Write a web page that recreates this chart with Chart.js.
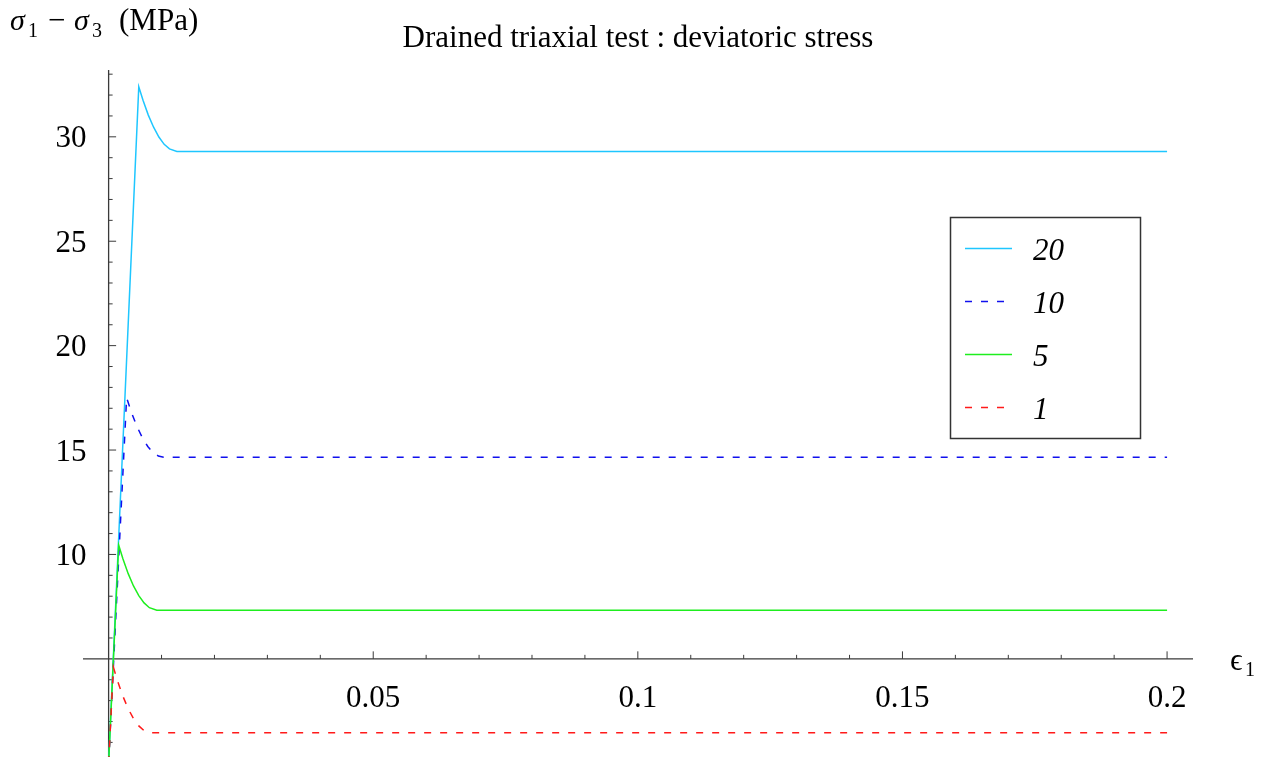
<!DOCTYPE html>
<html>
<head>
<meta charset="utf-8">
<script src="https://cdn.jsdelivr.net/npm/chart.js@4.4.1/dist/chart.umd.min.js"></script>
<style>
  html, body { margin: 0; padding: 0; background: #ffffff; }
  canvas { display: block; }
</style>
</head>
<body>
<canvas id="chart" width="1263" height="757"></canvas>
<script>
// Confining pressure of each test (MPa), in legend order
const confiningLabels = ['20', '10', '5', '1'];

// Axial strain and deviatoric stress (MPa) for each confining pressure
const strain20 = [0, 0.0057, 0.0065, 0.0075, 0.0085, 0.0095, 0.0105, 0.0115, 0.0129, 0.2];
const stress20 = [0, 32.4, 31.75, 31.04, 30.46, 29.99, 29.64, 29.42, 29.3, 29.3];

const strain10 = [0, 0.0034, 0.0044, 0.0054, 0.0064, 0.0074, 0.0084, 0.0094, 0.0104, 0.2];
const stress10 = [0, 17.5, 16.74, 16.1, 15.58, 15.17, 14.88, 14.71, 14.65, 14.65];

const strain5 = [0, 0.0019, 0.0027, 0.0037, 0.0047, 0.0057, 0.0067, 0.0077, 0.0091, 0.2];
const stress5 = [0, 10.45, 9.79, 9.08, 8.49, 8.03, 7.68, 7.45, 7.33, 7.33];

const strain1 = [0, 0.0009, 0.0017, 0.0027, 0.0037, 0.0047, 0.0057, 0.0067, 0.008, 0.2];
const stress1 = [0, 4.6, 3.93, 3.21, 2.61, 2.14, 1.79, 1.565, 1.46, 1.46];

// Axis ticks
const xMajorTicks = [0.05, 0.1, 0.15, 0.2];
const xTickLabels = ['0.05', '0.1', '0.15', '0.2'];
const xMinorTicks = [0.01, 0.02, 0.03, 0.04, 0.06, 0.07, 0.08, 0.09, 0.11, 0.12, 0.13, 0.14,
                     0.16, 0.17, 0.18, 0.19];
const yMajorTicks = [10, 15, 20, 25, 30];
const yTickLabels = ['10', '15', '20', '25', '30'];
const yMinorTicks = [1, 2, 3, 4, 6, 7, 8, 9, 11, 12, 13, 14, 16, 17, 18, 19, 21, 22, 23, 24,
                     26, 27, 28, 29, 31, 32, 33];

// The axes cross at this point
const axisOriginX = 0;
const axisOriginY = 5;

const SERIF = '"Liberation Serif", "Times New Roman", serif';
const AXIS_COLOR = '#3a3a3a';

function pairs(xs, ys) {
  return xs.map((x, i) => ({ x: x, y: ys[i] }));
}

const datasets = [
  { label: confiningLabels[0], data: pairs(strain20, stress20), borderColor: '#1ec6ff', borderDash: [], order: 4 },
  { label: confiningLabels[1], data: pairs(strain10, stress10), borderColor: '#1010ee', borderDash: [7, 9], order: 3 },
  { label: confiningLabels[2], data: pairs(strain5, stress5), borderColor: '#1eee1e', borderDash: [], order: 2 },
  { label: confiningLabels[3], data: pairs(strain1, stress1), borderColor: '#ff1a1a', borderDash: [7, 9], order: 1 }
].map(d => Object.assign(d, {
  showLine: true, pointRadius: 0, borderWidth: 1.5, tension: 0, fill: false
}));

// Axes through the origin with inside ticks, drawn under the curves
const crossAxes = {
  id: 'crossAxes',
  beforeDatasetsDraw(chart) {
    const { ctx, chartArea, scales: { x, y } } = chart;
    const ax = x.getPixelForValue(axisOriginX);
    const ay = y.getPixelForValue(axisOriginY);
    ctx.save();
    ctx.strokeStyle = AXIS_COLOR;
    ctx.lineWidth = 1.3;
    ctx.beginPath();
    ctx.moveTo(chartArea.left, ay);
    ctx.lineTo(chartArea.right, ay);
    ctx.moveTo(ax, chartArea.top);
    ctx.lineTo(ax, chartArea.bottom);
    ctx.stroke();

    ctx.lineWidth = 1;
    ctx.beginPath();
    xMinorTicks.forEach(v => { const px = x.getPixelForValue(v); ctx.moveTo(px, ay); ctx.lineTo(px, ay - 4); });
    xMajorTicks.forEach(v => { const px = x.getPixelForValue(v); ctx.moveTo(px, ay); ctx.lineTo(px, ay - 7.5); });
    yMinorTicks.forEach(v => { const py = y.getPixelForValue(v); ctx.moveTo(ax, py); ctx.lineTo(ax + 4, py); });
    yMajorTicks.forEach(v => { const py = y.getPixelForValue(v); ctx.moveTo(ax, py); ctx.lineTo(ax + 7.5, py); });
    ctx.stroke();

    ctx.fillStyle = '#000';
    ctx.font = '31px ' + SERIF;
    ctx.textAlign = 'center';
    ctx.textBaseline = 'alphabetic';
    xMajorTicks.forEach((v, i) => ctx.fillText(xTickLabels[i], x.getPixelForValue(v), ay + 48.5));
    ctx.textAlign = 'right';
    yMajorTicks.forEach((v, i) => ctx.fillText(yTickLabels[i], ax - 22, y.getPixelForValue(v) + 10.5));
    ctx.restore();
  },
  afterDraw(chart) {
    const { ctx, scales: { x, y } } = chart;
    ctx.save();
    ctx.fillStyle = '#000';
    ctx.textBaseline = 'alphabetic';
    ctx.textAlign = 'left';

    // Vertical axis title: sigma_1 - sigma_3 (MPa)
    const big = 'italic 30px ' + SERIF;
    const up = '31px ' + SERIF;
    const sub = '20px ' + SERIF;
    ctx.font = big; ctx.fillText('σ', 10, 30);
    ctx.font = sub; ctx.fillText('1', 28, 37);
    ctx.font = up; ctx.fillText('\u2212', 48, 30);
    ctx.font = big; ctx.fillText('σ', 74, 30);
    ctx.font = sub; ctx.fillText('3', 92, 37);
    ctx.font = up; ctx.fillText('(MPa)', 119, 30);

    // Horizontal axis title: epsilon_1
    const ay = y.getPixelForValue(axisOriginY);
    ctx.font = '31px ' + SERIF; ctx.fillText('\u03F5', 1230, ay + 11.5);
    ctx.font = sub; ctx.fillText('1', 1245, ay + 17);

    // Legend box
    const box = { left: 950, top: 217, width: 190, height: 221 };
    ctx.strokeStyle = '#333';
    ctx.lineWidth = 1.5;
    ctx.strokeRect(box.left + 0.5, box.top + 0.5, box.width, box.height);
    const rowTop = 248.5, rowGap = 53;
    chart.data.datasets.forEach((ds, i) => {
      const ry = rowTop + i * rowGap;
      ctx.strokeStyle = ds.borderColor;
      ctx.lineWidth = ds.borderWidth;
      ctx.setLineDash(ds.borderDash);
      ctx.beginPath();
      ctx.moveTo(965, ry);
      ctx.lineTo(1012, ry);
      ctx.stroke();
      ctx.setLineDash([]);
      ctx.fillStyle = '#000';
      ctx.font = 'italic 31px ' + SERIF;
      ctx.fillText(confiningLabels[i], 1033, ry + 11);
    });
    ctx.restore();
  }
};

new Chart(document.getElementById('chart'), {
  type: 'scatter',
  data: { datasets: datasets },
  options: {
    responsive: false,
    animation: false,
    devicePixelRatio: 1,
    layout: { padding: { left: 83, right: 70, top: 0, bottom: 0 } },
    scales: {
      x: { type: 'linear', display: false, min: -0.00484, max: 0.2049 },
      y: { type: 'linear', display: false, min: 0.3, max: 33.2 }
    },
    plugins: {
      legend: { display: false },
      tooltip: { enabled: false },
      title: {
        display: true,
        fullSize: false,
        text: 'Drained triaxial test : deviatoric stress',
        color: '#000',
        font: { family: SERIF, size: 31, weight: 'normal', lineHeight: 1.2 },
        padding: { top: 20, bottom: 12.8 }
      }
    }
  },
  plugins: [crossAxes]
});
</script>
</body>
</html>
